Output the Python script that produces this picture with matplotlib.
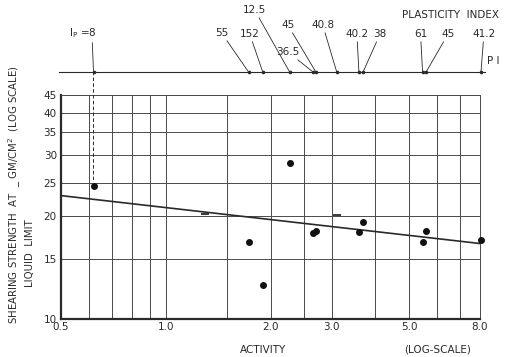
import matplotlib
matplotlib.use('Agg')
import matplotlib.pyplot as plt
from matplotlib.ticker import FixedLocator, NullFormatter
from matplotlib.transforms import blended_transform_factory

# activity (x) and shearing strength at liquid limit (y)
activity = [0.62, 1.73, 1.90, 2.27, 2.65, 2.70, 3.10, 3.59, 3.69, 5.47, 5.60, 8.05]
strength = [24.5, 16.8, 12.6, 28.6, 17.8, 18.1, 20.1, 17.9, 19.2, 16.8, 18.1, 17.0]
plast_index = ['8', '55', '152', '12.5', '36.5', '45', '40.8', '40.2', '38', '61', '45', '41.2']
faint = [6]  # drawn as a short dash, not a dot

extra_dash_x = [1.30]
extra_dash_y = [20.2]

fit_x = [0.5, 8.0]
fit_y = [22.9, 16.6]

x_major = [0.5, 1.0, 2.0, 3.0, 5.0, 8.0]
x_major_lbl = ['0.5', '1.0', '2.0', '3.0', '5.0', '8.0']
x_minor = [0.6, 0.7, 0.8, 0.9, 1.5, 2.5, 4.0, 6.0, 7.0]
y_major = [10, 15, 20, 25, 30, 35, 40, 45]

ink = '#2a2a2a'
grid_c = '#4a4a4a'

fig = plt.figure(figsize=(5.15, 3.57), dpi=100)
ax = fig.add_axes([61 / 515, 1 - 319 / 357, 419 / 515, 224 / 357])

ax.set_xscale('log')
ax.set_yscale('log')
ax.set_xlim(0.5, 8.0)
ax.set_ylim(10, 45)

ax.xaxis.set_major_locator(FixedLocator(x_major))
ax.xaxis.set_minor_locator(FixedLocator(x_minor))
ax.xaxis.set_minor_formatter(NullFormatter())
ax.set_xticklabels(x_major_lbl)
ax.yaxis.set_major_locator(FixedLocator(y_major))
ax.yaxis.set_minor_locator(FixedLocator([]))
ax.set_yticklabels([str(v) for v in y_major])
ax.tick_params(which='both', length=0, labelsize=7.5, labelcolor=ink)
ax.tick_params(axis='x', pad=2)
ax.tick_params(axis='y', pad=3)

ax.grid(True, which='both', color=grid_c, lw=0.7)
for s in ['top', 'right']:
    ax.spines[s].set_linewidth(0.7)
    ax.spines[s].set_color(grid_c)
for s in ['left', 'bottom']:
    ax.spines[s].set_linewidth(1.6)
    ax.spines[s].set_color(ink)

# fitted line
ax.plot(fit_x, fit_y, color=ink, lw=1.2, zorder=3)

dot_x = [a for i, a in enumerate(activity) if i not in faint]
dot_y = [s for i, s in enumerate(strength) if i not in faint]
ax.scatter(dot_x, dot_y, s=16, color='#111111', zorder=4, clip_on=False)
ax.scatter([activity[i] for i in faint] + extra_dash_x,
           [strength[i] for i in faint] + extra_dash_y,
           marker='_', s=30, color=ink, lw=1.3, zorder=4)

# plasticity index line above the plot
trans = blended_transform_factory(ax.transData, fig.transFigure)
line_y = 1 - 72 / 357
fig.add_artist(plt.Line2D([59 / 515, 485 / 515], [line_y, line_y],
                          color=ink, lw=0.8))
for a in activity:
    ax.plot([a], [line_y], marker='o', ms=1.6, color=ink, transform=trans,
            clip_on=False)

offsets = [(-11, 39), (-27, 39), (-13, 38), (-35, 62), (-25, 20), (-28, 47),
           (-14, 47), (-2, 38), (17, 38), (-2, 38), (22, 38), (3, 38)]
for i, (a, lab) in enumerate(zip(activity, plast_index)):
    txt = lab
    rel = (0.5, 0.5)
    if i == 0:
        txt = r'I$_\mathregular{P}$ =8'
        rel = (0.85, 0.0)
    ax.annotate(txt, xy=(a, line_y), xycoords=trans,
                xytext=offsets[i], textcoords='offset pixels',
                ha='center', va='center', fontsize=7.5, color=ink,
                arrowprops=dict(arrowstyle='-', color=ink, lw=0.6,
                                shrinkA=0, shrinkB=0, relpos=rel),
                annotation_clip=False)

# dashed drop line for Ip = 8
ax.annotate('', xy=(activity[0], strength[0] * 1.04), xycoords='data',
            xytext=(activity[0], line_y), textcoords=trans,
            arrowprops=dict(arrowstyle='-', color=ink, lw=0.7, ls=(0, (3, 3)),
                            shrinkA=0, shrinkB=0),
            annotation_clip=False)

fig.text(450 / 515, 1 - 15 / 357, 'PLASTICITY  INDEX', ha='center', va='center',
         fontsize=7.5, color=ink)
fig.text(487 / 515, 1 - 61 / 357, 'P I', ha='left', va='center',
         fontsize=7.5, color=ink)

fig.text(15 / 515, 1 - 195 / 357,
         'SHEARING STRENGTH  AT  _ GM/CM$^2$  (LOG SCALE)',
         rotation=90, ha='center', va='center', fontsize=7.3, color=ink)
fig.text(30 / 515, 1 - 253 / 357, 'LIQUID  LIMIT', rotation=90,
         ha='center', va='center', fontsize=7.3, color=ink)

fig.text(263 / 515, 1 - 350 / 357, 'ACTIVITY', ha='center', va='center',
         fontsize=7.5, color=ink)
fig.text(438 / 515, 1 - 350 / 357, '(LOG-SCALE)', ha='center', va='center',
         fontsize=7.5, color=ink)

fig.savefig('out.png', dpi=100)
